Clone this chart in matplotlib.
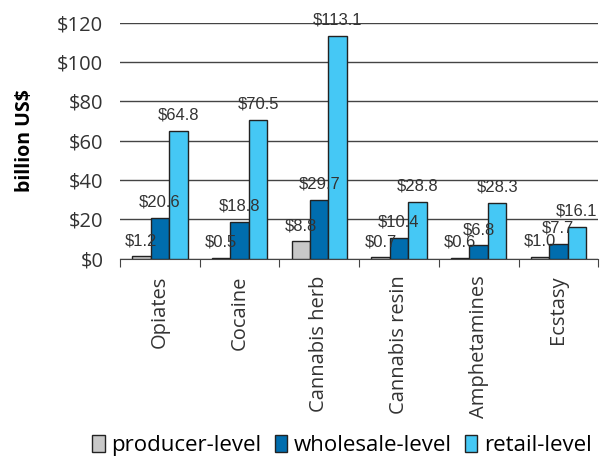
import matplotlib.pyplot as plt
import numpy as np

plt.rcParams['font.family'] = ['Open Sans', 'DejaVu Sans']

categories = ['Opiates', 'Cocaine', 'Cannabis herb', 'Cannabis resin', 'Amphetamines', 'Ecstasy']
producer = [1.2, 0.5, 8.8, 0.7, 0.6, 1.0]
wholesale = [20.6, 18.8, 29.7, 10.4, 6.8, 7.7]
retail = [64.8, 70.5, 113.1, 28.8, 28.3, 16.1]
series_names = ['producer-level', 'wholesale-level', 'retail-level']
colors = ['#C8C8C8', '#006DAE', '#45C8F5']
yticks = [0, 20, 40, 60, 80, 100, 120]

fig = plt.figure(figsize=(6, 4.62), dpi=100)
ax = fig.add_axes([0.2, 0.44, 0.797, 0.511])

x = np.arange(len(categories))
w = 0.232
for i, (vals, name, c) in enumerate(zip([producer, wholesale, retail], series_names, colors)):
    pos = x + (i - 1) * w
    ax.bar(pos, vals, w, color=c, edgecolor='#222222', linewidth=1, label=name, zorder=3)
    for px, v in zip(pos, vals):
        ax.annotate('$%.1f' % v, (px, v), xytext=(0, 6), textcoords='offset points',
                    ha='center', va='bottom', fontsize=12, color='#333333', zorder=4,
                    family='Liberation Sans')

ax.set_xlim(-0.5, len(categories) - 0.5)
ax.set_ylim(0, 120)
ax.set_yticks(yticks)
ax.set_yticklabels(['$%d' % t for t in yticks], fontsize=14.5, color='#333333')
ax.yaxis.grid(True, color='#444444', linewidth=1, zorder=0)
ax.tick_params(axis='y', length=0, pad=12)
for s in ['top', 'right', 'left']:
    ax.spines[s].set_visible(False)
ax.spines['bottom'].set_color('#444444')

ax.set_xticks(np.arange(len(categories) + 1) - 0.5, minor=False)
ax.set_xticklabels([])
ax.tick_params(axis='x', length=6, color='#444444')
ax.set_xticks(x, minor=True)
ax.set_xticklabels(categories, minor=True, rotation=90, fontsize=14.5, color='#333333')
ax.tick_params(axis='x', which='minor', length=0, pad=12)

ax.set_ylabel('billion US$', fontsize=14, fontweight='bold', labelpad=16)

fig.legend(loc='lower center', bbox_to_anchor=(0.57, -0.03), ncol=3, frameon=False,
           fontsize=16, handlelength=0.55, handleheight=0.8, handletextpad=0.3,
           columnspacing=0.6)

fig.savefig('out.png', dpi=100)
